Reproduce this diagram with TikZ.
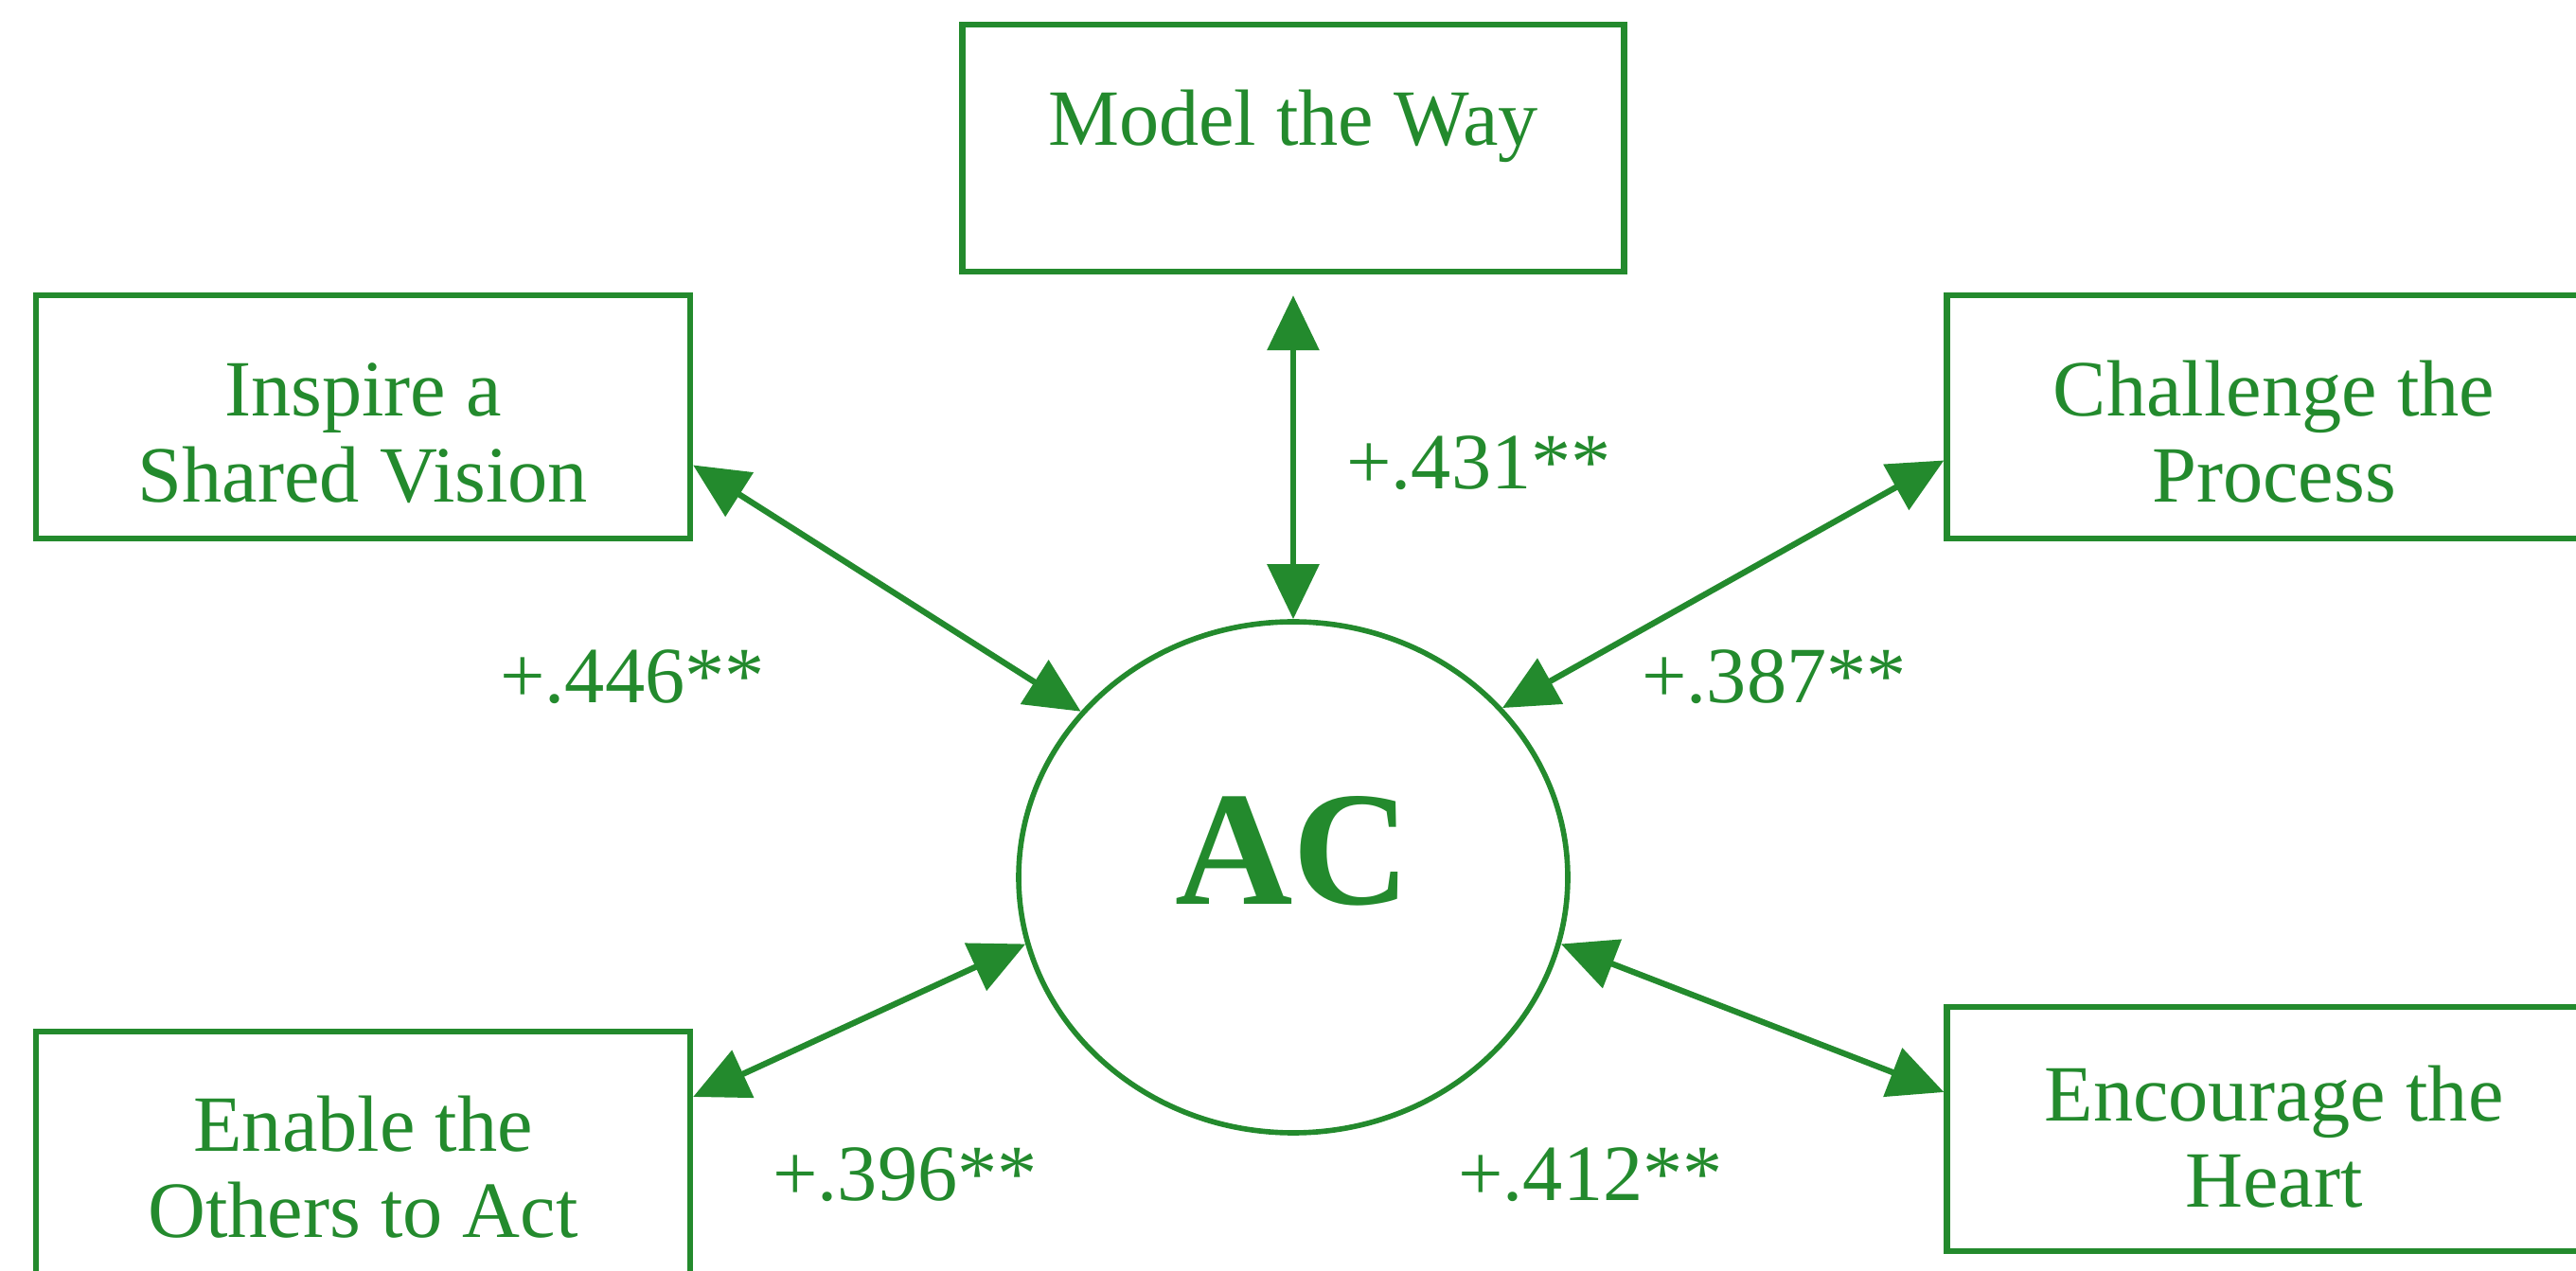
\documentclass[tikz,border=0pt]{standalone}
\usepackage{fontspec}
\setmainfont{Liberation Serif}
\usetikzlibrary{arrows.meta,positioning,shapes.geometric}
\definecolor{ink}{HTML}{238A2D}
\newcommand{\droptext}{\rule{0pt}{0.9cm}}

\begin{document}
\begin{tikzpicture}[
  every node/.append style={text=ink},
  factor/.style={draw=ink, line width=1.8pt, align=center, minimum width=6.91cm, minimum height=2.57cm, inner sep=0pt, font=\fontsize{24}{26}\selectfont},
  coef/.style={inner sep=0pt, font=\fontsize{24}{26}\selectfont},
  link/.style={{Triangle[length=5.8mm,width=5.4mm]}-{Triangle[length=5.8mm,width=5.4mm]}, draw=ink, line width=1.8pt},
]
\useasboundingbox (0,0) rectangle (27.21,-13.43);
% (a) the outcome, in the middle
\node[ellipse, draw=ink, line width=1.6pt, minimum width=5.8cm, minimum height=5.4cm, inner sep=0pt, text depth=0.58cm, font=\fontsize{49}{49}\selectfont\bfseries] (ac) at (13.66,-9.27) {AC};
% (b) the five practices round it
\node[factor, minimum width=6.99cm, minimum height=2.61cm, text depth=0.65cm, above=3.64cm of ac] (model) {Model the Way};
\node[factor] (inspire) at (3.835,-4.405) {\droptext Inspire a\\Shared Vision};
\node[factor] (challenge) at (24.02,-4.405) {\droptext Challenge the\\Process};
\node[factor, minimum height=2.86cm] (enable) at (3.835,-12.33) {Enable the\\Others to Act};
\node[factor, minimum height=2.58cm] (encourage) at (24.02,-11.93) {\rule{0pt}{0.75cm}Encourage the\\Heart};
% (c) correlations
\draw[link, shorten <=0.22cm] (model) -- (ac);
\draw[link] ([yshift=-5.1mm]inspire.east) -- (ac.142);
\draw[link] ([yshift=-4.6mm]challenge.west) -- (ac.39);
\draw[link] ([yshift=7.4mm]enable.east) -- (ac.194);
\draw[link] ([yshift=3.9mm]encourage.west) -- (ac.346);
% (d) coefficients
\node[coef] (r431) at (15.62,-4.89) {+.431**};
\node[coef] (r446) at (6.68,-7.15) {+.446**};
\node[coef] (r387) at (18.74,-7.15) {+.387**};
\node[coef] (r396) at (9.56,-12.41) {+.396**};
\node[coef] (r412) at (16.80,-12.41) {+.412**};
\end{tikzpicture}
\end{document}
